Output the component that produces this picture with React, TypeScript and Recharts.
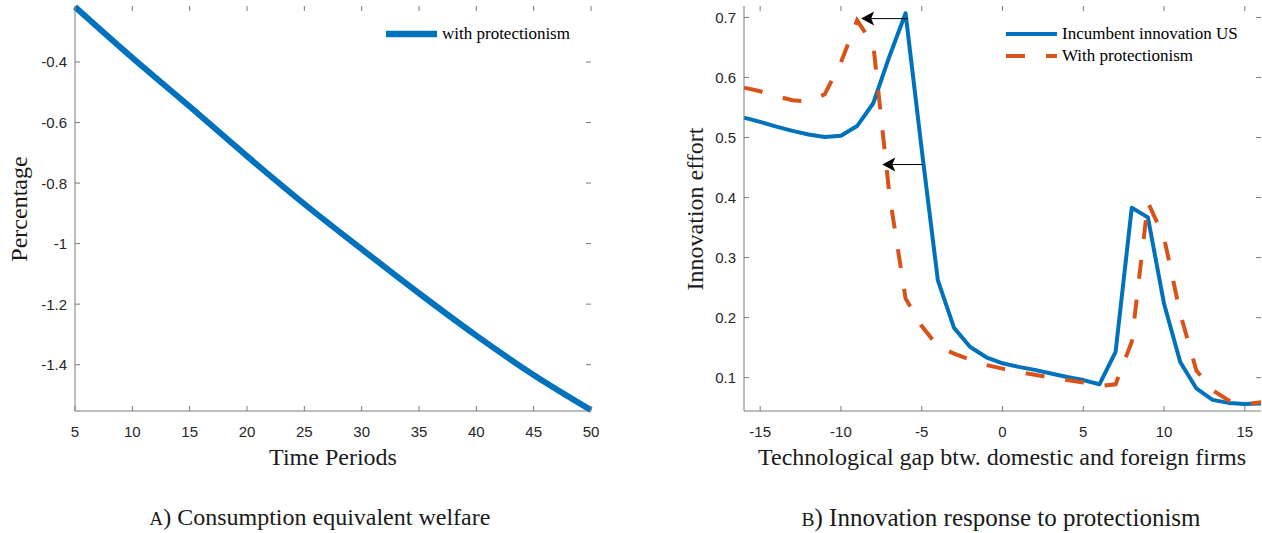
import React from "react";
import { Line, LineChart, ReferenceLine, XAxis, YAxis } from "recharts";

// Panel A: consumption equivalent welfare over time
const periods = [5, 10, 15, 20, 25, 30, 35, 40, 45, 50];
const welfare = [-0.218, -0.386, -0.547, -0.711, -0.869, -1.018, -1.164, -1.304, -1.434, -1.55];
const periodTicks = [5, 10, 15, 20, 25, 30, 35, 40, 45, 50];
const welfareTicks = [-1.4, -1.2, -1, -0.8, -0.6, -0.4];

// Panel B: innovation effort by technological gap
const gaps = [-16, -15, -14, -13, -12, -11, -10, -9, -8, -7, -6, -5, -4, -3, -2, -1, 0, 1, 2, 3, 4, 5, 6, 7, 8, 9, 10, 11, 12, 13, 14, 15, 16];
const incumbent = [
  0.533, 0.526, 0.518, 0.511, 0.505, 0.501, 0.503, 0.519, 0.557, 0.635, 0.707, 0.48, 0.262, 0.183, 0.151, 0.134,
  0.124, 0.118, 0.113, 0.107, 0.101, 0.096, 0.089, 0.143, 0.383, 0.367, 0.223, 0.126, 0.082, 0.063, 0.058, 0.056, 0.057,
];
const protection = [
  0.583, 0.577, 0.569, 0.562, 0.56, 0.572, 0.625, 0.695, 0.655, 0.405, 0.232, 0.186, 0.152, 0.14, 0.13, 0.121,
  0.115, 0.109, 0.105, 0.1, 0.096, 0.092, 0.086, 0.089, 0.16, 0.392, 0.333, 0.207, 0.112, 0.079, 0.062, 0.056, 0.059,
];
const gapTicks = [-15, -10, -5, 0, 5, 10, 15];
const effortTicks = [0.1, 0.2, 0.3, 0.4, 0.5, 0.6, 0.7];

// shift arrows: [gap, effort] tail -> tip
const arrowTails = [[-5.85, 0.698], [-4.92, 0.455]];
const arrowTips = [[-8.75, 0.698], [-7.44, 0.455]];

const BLUE = "#0072BD";
const ORANGE = "#D95319";
const AXIS_GREY = "#7a7a7a";
const TICK_TEXT = "#262626";
const SANS = "'Liberation Sans', Arial, sans-serif";
const SERIF = "'Liberation Serif', 'Times New Roman', serif";

const CHART_W = 631;
const CHART_H = 533;
const PLOT_TOP = 6;
const PLOT_BOTTOM = 411;

const fmt = (v: number) => String(Math.round(v * 10) / 10);

function XTick(props: any) {
  const { x, payload } = props;
  return (
    <g>
      <line x1={x} x2={x} y1={PLOT_BOTTOM} y2={PLOT_BOTTOM - 5} stroke={AXIS_GREY} />
      <line x1={x} x2={x} y1={PLOT_TOP} y2={PLOT_TOP + 5} stroke={AXIS_GREY} />
      <text x={x} y={431} textAnchor="middle" dominantBaseline="central" fill={TICK_TEXT} fontFamily={SANS} fontSize={15}>
        {fmt(payload.value)}
      </text>
    </g>
  );
}

const yTickFor = (left: number, right: number) => (props: any) => {
  const { y, payload } = props;
  return (
    <g>
      <line x1={left} x2={left + 5} y1={y} y2={y} stroke={AXIS_GREY} />
      <line x1={right - 5} x2={right} y1={y} y2={y} stroke={AXIS_GREY} />
      <text x={left - 8} y={y} textAnchor="end" dominantBaseline="central" fill={TICK_TEXT} fontFamily={SANS} fontSize={15}>
        {fmt(payload.value)}
      </text>
    </g>
  );
};

function Arrow(props: any) {
  const { x1, y1, x2, y2 } = props;
  const dir = x2 < x1 ? 1 : -1;
  return (
    <g>
      <line x1={x1} y1={y1} x2={x2 + dir * 10} y2={y2} stroke="#000" strokeWidth={1} />
      <polygon
        points={`${x2},${y2} ${x2 + dir * 13},${y2 - 7} ${x2 + dir * 10},${y2} ${x2 + dir * 13},${y2 + 7}`}
        fill="#000"
      />
    </g>
  );
}

function LegendRow({ left, cy, color, width, dash, label }: any) {
  return (
    <div style={{ position: "absolute", left, top: cy - 12, height: 24, display: "flex", alignItems: "center" }}>
      <svg width={51} height={10} style={{ display: "block" }}>
        <line x1={0} x2={51} y1={5} y2={5} stroke={color} strokeWidth={width} strokeDasharray={dash} />
      </svg>
      <span style={{ marginLeft: 5, fontFamily: SERIF, fontSize: 17, color: "#000", whiteSpace: "nowrap" }}>{label}</span>
    </div>
  );
}

function TextAt({ cx, cy, size, rotate, children }: any) {
  return (
    <div
      style={{
        position: "absolute",
        left: cx,
        top: cy,
        transform: `translate(-50%, -50%)${rotate ? " rotate(-90deg)" : ""}`,
        fontFamily: SERIF,
        fontSize: size,
        lineHeight: 1,
        whiteSpace: "nowrap",
        color: "#1a1a1a",
      }}
    >
      {children}
    </div>
  );
}

// panel letter set as a small capital
const SmallCap = ({ children }: any) => <span style={{ fontSize: "0.78em" }}>{children}</span>;

const welfareRows = periods.map((p, i) => ({ period: p, welfare: welfare[i] }));
const gapRows = gaps.map((g, i) => ({ gap: g, incumbent: incumbent[i], protection: protection[i] }));

function WelfareChart() {
  const domain: [number, number] = [-1.553, -0.215];
  return (
    <LineChart width={CHART_W} height={CHART_H} data={welfareRows} margin={{ top: PLOT_TOP, right: 40, bottom: 0, left: 0 }}>
      <XAxis dataKey="period" type="number" domain={[5, 50]} ticks={periodTicks} interval={0} height={122}
        axisLine={{ stroke: AXIS_GREY }} tickLine={false} tick={XTick} />
      <XAxis xAxisId="top" orientation="top" type="number" domain={[5, 50]} height={0}
        axisLine={{ stroke: AXIS_GREY }} tickLine={false} tick={false} />
      <YAxis type="number" domain={domain} ticks={welfareTicks} interval={0} width={75}
        axisLine={{ stroke: AXIS_GREY }} tickLine={false} tick={yTickFor(75, 591)} />
      <YAxis yAxisId="right" orientation="right" type="number" domain={domain} width={0}
        axisLine={{ stroke: AXIS_GREY }} tickLine={false} tick={false} />
      <Line dataKey="welfare" type="monotone" stroke={BLUE} strokeWidth={6} dot={false} isAnimationActive={false} />
    </LineChart>
  );
}

function InnovationChart() {
  const domain: [number, number] = [0.0445, 0.719];
  return (
    <LineChart width={CHART_W} height={CHART_H} data={gapRows} margin={{ top: PLOT_TOP, right: 1, bottom: 0, left: 0 }}>
      <XAxis dataKey="gap" type="number" domain={[-16, 16]} ticks={gapTicks} interval={0} height={122}
        axisLine={{ stroke: AXIS_GREY }} tickLine={false} tick={XTick} />
      <XAxis xAxisId="top" orientation="top" type="number" domain={[-16, 16]} height={0}
        axisLine={{ stroke: AXIS_GREY }} tickLine={false} tick={false} />
      <YAxis type="number" domain={domain} ticks={effortTicks} interval={0} width={113}
        axisLine={{ stroke: AXIS_GREY }} tickLine={false} tick={yTickFor(113, 630)} />
      <YAxis yAxisId="right" orientation="right" type="number" domain={domain} width={0}
        axisLine={{ stroke: AXIS_GREY }} tickLine={false} tick={false} />
      <Line dataKey="incumbent" type="linear" stroke={BLUE} strokeWidth={4} strokeLinejoin="round" dot={false} isAnimationActive={false} />
      <Line dataKey="protection" type="linear" stroke={ORANGE} strokeWidth={4} strokeDasharray="19 21" dot={false} isAnimationActive={false} />
      {arrowTails.map((t, i) => (
        <ReferenceLine
          key={i}
          segment={[{ x: t[0], y: t[1] }, { x: arrowTips[i][0], y: arrowTips[i][1] }]}
          shape={Arrow}
        />
      ))}
    </LineChart>
  );
}

export default function App() {
  return (
    <div style={{ position: "absolute", left: 0, top: 0, width: 1262, height: 533, background: "#fff", overflow: "hidden" }}>
      <div style={{ position: "absolute", left: 0, top: 0 }}>
        <WelfareChart />
      </div>
      <div style={{ position: "absolute", left: 631, top: 0 }}>
        <InnovationChart />
      </div>

      <LegendRow left={386} cy={34} color={BLUE} width={6.5} label="with protectionism" />
      <LegendRow left={1006} cy={33.5} color={BLUE} width={4} label="Incumbent innovation US" />
      <LegendRow left={1006} cy={56} color={ORANGE} width={4} dash="19 21" label="With protectionism" />

      <TextAt cx={19} cy={209} size={24} rotate>Percentage</TextAt>
      <TextAt cx={695} cy={209} size={24} rotate>Innovation effort</TextAt>
      <TextAt cx={333} cy={457} size={24}>Time Periods</TextAt>
      <TextAt cx={1002} cy={457} size={24}>Technological gap btw. domestic and foreign firms</TextAt>

      <TextAt cx={320} cy={517} size={24}>
        <SmallCap>A</SmallCap>) Consumption equivalent welfare
      </TextAt>
      <TextAt cx={1001} cy={517} size={25}>
        <SmallCap>B</SmallCap>) Innovation response to protectionism
      </TextAt>
    </div>
  );
}
